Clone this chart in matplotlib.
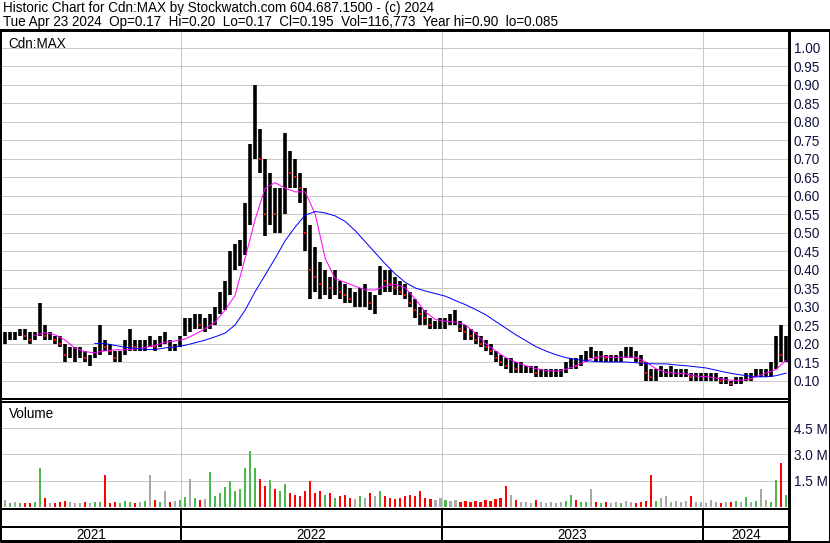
import numpy as np
import pandas as pd
import matplotlib
matplotlib.use("Agg")
import matplotlib.pyplot as plt
from matplotlib.lines import Line2D

# ---------------- data (weekly) ----------------
week_start = "2021-04-30"
price_lo = [0.20,0.21,0.21,0.22,0.21,0.20,0.21,0.22,0.21,0.21,0.20,0.19,0.15,0.16,0.15,0.16,0.15,0.14,0.16,0.17,
            0.18,0.17,0.15,0.15,0.17,0.18,0.18,0.18,0.18,0.19,0.18,0.19,0.20,0.18,0.18,0.19,0.22,0.23,0.24,0.24,
            0.23,0.24,0.25,0.28,0.29,0.33,0.40,0.41,0.44,0.52,0.70,0.66,0.49,0.52,0.50,0.50,0.55,0.62,0.62,0.58,
            0.45,0.32,0.34,0.32,0.33,0.32,0.33,0.32,0.31,0.31,0.30,0.30,0.30,0.29,0.28,0.33,0.34,0.34,0.33,0.33,
            0.32,0.30,0.27,0.25,0.25,0.24,0.24,0.24,0.24,0.25,0.25,0.23,0.21,0.21,0.20,0.19,0.18,0.17,0.15,0.14,
            0.13,0.12,0.12,0.12,0.12,0.12,0.11,0.11,0.11,0.11,0.11,0.11,0.12,0.13,0.13,0.14,0.15,0.16,0.15,0.15,
            0.15,0.15,0.15,0.15,0.16,0.16,0.15,0.14,0.10,0.10,0.10,0.11,0.11,0.11,0.11,0.11,0.11,0.10,0.10,0.10,
            0.10,0.10,0.10,0.09,0.09,0.085,0.09,0.09,0.10,0.10,0.11,0.11,0.11,0.11,0.13,0.15,0.15]
price_hi = [0.23,0.23,0.23,0.24,0.24,0.23,0.23,0.31,0.25,0.23,0.22,0.22,0.20,0.19,0.19,0.19,0.18,0.17,0.19,0.25,
            0.21,0.20,0.18,0.18,0.21,0.24,0.21,0.21,0.21,0.22,0.21,0.22,0.23,0.21,0.20,0.22,0.27,0.27,0.28,0.28,
            0.27,0.28,0.30,0.34,0.37,0.45,0.47,0.48,0.58,0.74,0.90,0.78,0.70,0.66,0.62,0.62,0.77,0.72,0.70,0.66,
            0.62,0.52,0.46,0.42,0.40,0.38,0.40,0.37,0.36,0.35,0.34,0.35,0.36,0.34,0.33,0.41,0.40,0.40,0.38,0.37,
            0.36,0.34,0.32,0.30,0.29,0.27,0.26,0.27,0.27,0.28,0.29,0.26,0.25,0.24,0.23,0.22,0.21,0.20,0.18,0.17,
            0.16,0.16,0.15,0.15,0.14,0.14,0.14,0.13,0.13,0.13,0.13,0.13,0.15,0.16,0.16,0.17,0.18,0.19,0.18,0.18,
            0.17,0.17,0.17,0.18,0.19,0.19,0.18,0.17,0.15,0.13,0.13,0.14,0.13,0.14,0.13,0.13,0.13,0.12,0.12,0.12,
            0.12,0.12,0.12,0.11,0.11,0.10,0.11,0.11,0.12,0.12,0.13,0.13,0.13,0.15,0.22,0.25,0.22]
price_cl = [0.21,0.22,0.22,0.23,0.22,0.21,0.22,0.25,0.22,0.22,0.21,0.20,0.17,0.17,0.17,0.17,0.16,0.16,0.18,0.20,
            0.19,0.18,0.16,0.17,0.19,0.20,0.19,0.19,0.20,0.20,0.19,0.21,0.21,0.19,0.19,0.21,0.25,0.25,0.26,0.25,
            0.25,0.26,0.28,0.32,0.35,0.40,0.43,0.45,0.55,0.68,0.75,0.70,0.55,0.60,0.55,0.58,0.68,0.66,0.65,0.62,
            0.50,0.40,0.38,0.36,0.37,0.35,0.36,0.34,0.33,0.32,0.32,0.33,0.33,0.31,0.31,0.38,0.37,0.36,0.35,0.34,
            0.33,0.31,0.29,0.28,0.27,0.25,0.25,0.25,0.26,0.26,0.26,0.24,0.23,0.22,0.21,0.20,0.19,0.18,0.16,0.15,
            0.14,0.14,0.13,0.13,0.13,0.13,0.12,0.12,0.12,0.12,0.12,0.12,0.13,0.15,0.14,0.16,0.17,0.17,0.16,0.17,
            0.16,0.16,0.16,0.17,0.17,0.17,0.16,0.15,0.12,0.11,0.12,0.12,0.12,0.12,0.12,0.12,0.12,0.11,0.11,0.11,
            0.11,0.11,0.11,0.10,0.10,0.09,0.10,0.10,0.11,0.11,0.12,0.12,0.12,0.13,0.18,0.17,0.195]
volume_m = [0.40,0.25,0.30,0.20,0.25,0.20,0.30,2.20,0.50,0.25,0.20,0.30,0.35,0.30,0.25,0.20,0.30,0.25,0.30,0.30,
            1.80,0.20,0.30,0.25,0.35,0.30,0.25,0.30,0.35,1.85,0.40,0.30,0.90,0.30,0.35,0.40,0.55,1.60,0.50,0.40,
            0.45,2.00,0.60,0.80,1.15,1.50,0.90,1.00,2.20,3.20,2.25,1.60,1.20,1.55,1.00,0.90,1.30,0.80,0.70,0.60,
            0.90,1.50,0.80,0.90,0.70,0.80,0.50,0.60,0.70,0.50,0.45,0.60,0.50,0.80,0.60,0.90,0.60,0.50,0.45,0.50,
            0.60,0.70,0.60,0.90,0.50,0.45,0.40,0.50,0.40,0.35,0.40,0.30,0.35,0.30,0.35,0.30,0.40,0.35,0.45,0.50,
            1.20,0.70,0.40,0.30,0.30,0.25,0.40,0.30,0.25,0.30,0.25,0.30,0.35,0.70,0.40,0.30,0.30,1.00,0.30,0.25,
            0.30,0.20,0.30,0.25,0.35,0.30,0.25,0.30,0.35,1.80,0.35,0.50,0.60,0.30,0.35,0.30,0.35,0.60,0.30,0.30,
            0.25,0.40,0.30,0.25,0.30,0.30,0.35,0.30,0.55,0.30,0.35,1.05,0.40,0.30,1.55,2.50,0.70]
# moving averages, sampled every two weeks (NaN = not drawn)
ma_fast = [np.nan,np.nan,np.nan,0.222,0.229,0.224,0.210,0.188,0.178,0.175,0.180,0.183,0.183,0.185,0.189,0.195,
           0.203,0.207,0.212,0.225,0.240,0.258,0.290,0.330,0.430,0.535,0.620,0.635,0.620,0.610,0.610,0.550,
           0.430,0.375,0.365,0.355,0.345,0.345,0.355,0.360,0.350,0.320,0.285,0.265,0.260,0.258,0.250,0.228,
           0.200,0.180,0.162,0.150,0.140,0.132,0.127,0.125,0.130,0.140,0.152,0.163,0.165,0.162,0.163,0.163,
           0.150,0.132,0.122,0.120,0.118,0.112,0.110,0.107,0.102,0.100,0.102,0.110,0.120,0.130,0.155]
ma_slow = [np.nan]*9 + [0.200,0.200,0.195,0.190,0.187,0.184,0.184,0.188,0.191,0.195,0.202,0.209,0.218,0.228,
           0.250,0.290,0.340,0.385,0.430,0.478,0.515,0.547,0.557,0.553,0.545,0.530,0.505,0.475,0.445,0.415,
           0.388,0.365,0.350,0.342,0.335,0.328,0.316,0.305,0.292,0.278,0.260,0.242,0.224,0.208,0.192,0.180,
           0.170,0.162,0.157,0.154,0.151,0.150,0.150,0.150,0.148,0.146,0.145,0.145,0.142,0.140,0.137,0.134,
           0.128,0.122,0.117,0.113,0.110,0.110,0.113,0.120]
price_ticks = [0.10,0.15,0.20,0.25,0.30,0.35,0.40,0.45,0.50,0.55,0.60,0.65,0.70,0.75,0.80,0.85,0.90,0.95,1.00]
volume_ticks = [1.5, 3.0, 4.5]
years = ["2021", "2022", "2023", "2024"]
header1 = "Historic Chart for Cdn:MAX by Stockwatch.com 604.687.1500 - (c) 2024"
header2 = "Tue Apr 23 2024  Op=0.17  Hi=0.20  Lo=0.17  Cl=0.195  Vol=116,773  Year hi=0.90  lo=0.085"
symbol = "Cdn:MAX"

# ---------------- figure ----------------
plt.rcParams['font.family'] = ['Liberation Sans', 'DejaVu Sans']
W, H = 830, 543
FS = 9.75
fig = plt.figure(figsize=(W/100, H/100), dpi=100)

def rect(x0, y0, x1, y1):
    return [x0/W, 1 - y1/H, (x1 - x0)/W, (y1 - y0)/H]

dates = pd.date_range(week_start, periods=len(price_cl), freq="W-FRI")
ma_dates = dates[::2]
x0d = pd.Timestamp("2021-04-25")
x1d = pd.Timestamp("2024-04-30")
grid_c = "#C8C8C8"
lab_c = "#101040"
px = 0.72  # points per pixel

ax_p = fig.add_axes(rect(1, 31, 789, 399))
ax_v = fig.add_axes(rect(1, 402, 789, 509))
ax_s1 = fig.add_axes(rect(1, 509, 789, 527))
ax_s2 = fig.add_axes(rect(1, 527, 789, 541))

year_bounds = [pd.Timestamp(f"{y}-01-01") for y in years[1:]]

# price panel
ax_p.set_xlim(x0d, x1d)
ax_p.set_ylim(0.05, 1.045)
for t in price_ticks:
    ax_p.axhline(t, color=grid_c, lw=1*px, zorder=0)
for b in year_bounds:
    ax_p.axvline(b, color=grid_c, lw=1*px, zorder=0)
ax_p.vlines(dates, price_lo, price_hi, color="black", lw=3.6*px, zorder=3)
cl = np.array(price_cl)
down = np.r_[False, cl[1:] < cl[:-1]]
ax_p.plot(np.array(dates)[down], cl[down], ls="none", marker="s", ms=1.6, color="red", mew=0, zorder=4)
ax_p.plot(ma_dates, ma_fast, color="#FF00FF", lw=1*px, zorder=5)
ax_p.plot(ma_dates, ma_slow, color="#0000FF", lw=1*px, zorder=5)
ax_p.yaxis.tick_right()
ax_p.set_yticks(price_ticks)
ax_p.set_yticklabels([f"{t:.2f}" for t in price_ticks])
ax_p.tick_params(axis="y", length=0, pad=3.5, labelsize=FS, labelcolor=lab_c)
ax_p.set_xticks([])
ax_p.text(7/788, 1 - 6/368, symbol, transform=ax_p.transAxes, ha="left", va="top", fontsize=FS, color="black")

# volume panel
ax_v.set_xlim(x0d, x1d)
ax_v.set_ylim(-0.12, 6.0)
for t in volume_ticks:
    ax_v.axhline(t, color=grid_c, lw=1*px, zorder=0)
for b in year_bounds:
    ax_v.axvline(b, color=grid_c, lw=1*px, zorder=0)
chg = np.r_[0, np.diff(cl)]
vcol = np.where(chg > 0, "#4DB84D", np.where(chg < 0, "#FF0000", "#A8A8A8"))
ax_v.bar(dates, volume_m, width=3.0, color=vcol, bottom=0, zorder=3, align="center")
ax_v.yaxis.tick_right()
ax_v.set_yticks(volume_ticks)
ax_v.set_yticklabels([f"{t:.1f} M" for t in volume_ticks])
ax_v.tick_params(axis="y", length=0, pad=3.5, labelsize=FS, labelcolor=lab_c)
ax_v.set_xticks([])
ax_v.text(8/788, 1 - 5/107, "Volume", transform=ax_v.transAxes, ha="left", va="top", fontsize=FS, color="black")

# strips
for a in (ax_s1, ax_s2):
    a.set_xlim(x0d, x1d)
    a.set_ylim(0, 1)
    a.set_xticks([]); a.set_yticks([])
    for b in year_bounds:
        a.axvline(b, color="black", lw=2*px)
edges = [x0d] + year_bounds + [x1d]
for i, y in enumerate(years):
    mid = edges[i] + (edges[i+1] - edges[i]) / 2
    ax_s2.text(mid, 0.45, y, ha="center", va="center", fontsize=FS, color="black")

for a in (ax_p, ax_v, ax_s1, ax_s2):
    for s in a.spines.values():
        s.set_color("black")
        s.set_linewidth(2*px)
    a.spines["right"].set_linewidth(3*px)

# header
fig.text(3/W, 1 - 1/H, header1, ha="left", va="top", fontsize=FS, color="black")
fig.text(3/W, 1 - 15/H, header2, ha="left", va="top", fontsize=FS, color="black")
fig.add_artist(Line2D([0, 1], [1 - 30.5/H, 1 - 30.5/H], color="black", lw=2*px, transform=fig.transFigure))
fig.add_artist(Line2D([0.5/W, 0.5/W, 1 - 0.5/W, 1 - 0.5/W, 0.5/W],
                      [1 - 30/H, 1.5/H, 1.5/H, 1 - 30/H, 1 - 30/H],
                      color="black", lw=2*px, transform=fig.transFigure))

fig.savefig("out.png", dpi=100, facecolor="white")
